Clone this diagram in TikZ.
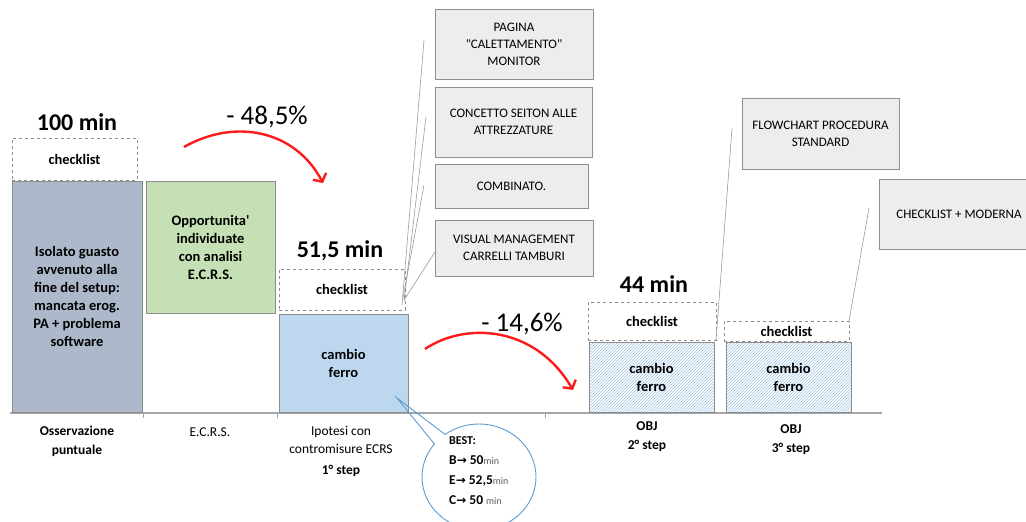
\documentclass[tikz,border=0pt]{standalone}
\usepackage{fontspec}
\setmainfont{Carlito}[Ligatures=TeXOff]
\newfontfamily\symfont{DejaVu Sans}
\usetikzlibrary{arrows.meta,positioning,patterns,shapes.callouts}
\definecolor{barslate}{HTML}{ADB9CA}
\definecolor{bargreen}{HTML}{C5E0B4}
\definecolor{barblue}{HTML}{BDD7EE}
\definecolor{hatchblue}{HTML}{9DC3E6}
\definecolor{notefill}{HTML}{EDEDED}
\definecolor{notedraw}{HTML}{8F8F8F}
\definecolor{bargray}{HTML}{8C8C8C}
\definecolor{axisgray}{HTML}{A6A6A6}
\definecolor{leadgray}{HTML}{9A9A9A}
\definecolor{calloutblue}{HTML}{5B9BD5}
\definecolor{arrowred}{HTML}{FF1A1A}
\definecolor{mingray}{HTML}{595959}
\newcommand\smallmin{{\mdseries\fontsize{10}{10}\selectfont\color{mingray} min}}
\newcommand\bestarrow{{\symfont\bfseries\fontsize{12}{12}\selectfont →}}

\begin{document}
\begin{tikzpicture}[x=1pt,y=-1pt,
    bar/.style={draw=bargray,line width=0.9pt,anchor=north west,inner sep=0pt,outer sep=0pt,
      align=center,font=\bfseries\fontsize{14.5}{18}\selectfont},
    ckbox/.style={draw=bargray,dashed,line width=0.9pt,anchor=north west,inner sep=0pt,outer sep=0pt,
      font=\bfseries\fontsize{14.5}{14}\selectfont},
    hatched/.style={pattern=north east lines,pattern color=hatchblue},
    note/.style={draw=notedraw,fill=notefill,line width=0.8pt,anchor=north west,inner sep=0pt,outer sep=0pt,
      align=center,font=\fontsize{13}{17}\selectfont},
    minlbl/.style={font=\bfseries\fontsize{24}{26}\selectfont},
    pctlbl/.style={font=\fontsize{27}{29}\selectfont},
    axlbl/.style={align=center,font=\fontsize{13.5}{18}\selectfont},
    axbold/.style={align=center,font=\bfseries\fontsize{13.5}{19}\selectfont},
    drop/.style={->,draw=arrowred,line width=2.4pt,>={Straight Barb[length=6pt,width=15pt]}},
    lead/.style={draw=leadgray,line width=0.6pt}]
  \useasboundingbox (0,0) rectangle (1026,522);

  % axis
  \draw[axisgray,line width=1.2pt] (10,413) -- (882,413);
  \foreach \t in {143,277,545} \draw[axisgray,line width=1pt] (\t,413) -- (\t,418);

  % bars
  \node[bar,fill=barslate,minimum width=130pt,minimum height=231pt] (obs) at (12,181)
    {Isolato guasto\\avvenuto alla\\fine del setup:\\mancata erog.\\PA + problema\\software};
  \node[ckbox,minimum width=125pt,minimum height=42pt] (ck1) at (12,138) {checklist};
  \node[minlbl] (min1) at (77,122) {100 min};

  \node[bar,fill=bargreen,minimum width=129pt,minimum height=132pt] (ecrs) at (146,181)
    {Opportunita'\\individuate\\con analisi\\E.C.R.S.};

  \node[bar,fill=barblue,minimum width=129pt,minimum height=98pt] (fe1) at (279,314) {cambio\\ferro};
  \node[ckbox,minimum width=126pt,minimum height=41pt] (ck2) at (279,269) {checklist};
  \node[minlbl] (min2) at (340,251) {51,5 min};

  \node[bar,hatched,minimum width=125pt,minimum height=70pt] (fe2) at (589,342) {cambio\\ferro};
  \node[ckbox,minimum width=128pt,minimum height=38pt] (ck3) at (588,302) {checklist};
  \node[minlbl] (min3) at (654,284) {44 min};

  \node[bar,hatched,minimum width=125pt,minimum height=70pt] (fe3) at (726,342) {cambio\\ferro};
  \node[ckbox,minimum width=125pt,minimum height=20pt] (ck4) at (724,321) {checklist};

  % labels under the axis
  \node[axbold] (lObs) at (77,441) {Osservazione\\puntuale};
  \node[axlbl] (lEcrs) at (210,432) {E.C.R.S.};
  \node[axlbl] (lIpo) at (341,440) {Ipotesi con\\contromisure ECRS};
  \node[axbold] (lStep1) at (341,471) {1° step};
  \node[axbold] (lObj2) at (647,437) {OBJ\\2° step};
  \node[axbold] (lObj3) at (791,440) {OBJ\\3° step};

  % notes
  \node[note,minimum width=158pt,minimum height=70pt] (pA) at (435,9) {PAGINA\\"CALETTAMENTO"\\MONITOR};
  \node[note,minimum width=157pt,minimum height=70pt] (pB) at (435,87) {CONCETTO SEITON ALLE\\ATTREZZATURE};
  \node[note,minimum width=153pt,minimum height=44pt] (pC) at (435,164) {COMBINATO.};
  \node[note,minimum width=158pt,minimum height=56pt] (pD) at (435,220) {VISUAL MANAGEMENT\\CARRELLI TAMBURI};
  \node[note,minimum width=157pt,minimum height=71pt] (pE) at (742,98) {FLOWCHART PROCEDURA\\STANDARD};
  \node[note,minimum width=160pt,minimum height=70pt] (pF) at (879,179) {CHECKLIST + MODERNA};

  \draw[lead] ([xshift=-11pt,yshift=4pt]pA.west) -- ([xshift=-3pt,yshift=5pt]ck2.south east);
  \draw[lead] ([xshift=-9pt,yshift=5pt]pB.west) -- ([xshift=-1pt,yshift=9pt]ck2.south east);
  \draw[lead] ([xshift=-11pt,yshift=1pt]pC.west) -- ([xshift=-2pt,yshift=12pt]ck2.south east);
  \draw[lead] ([yshift=-4pt]pD.west) -- ([xshift=-1pt,yshift=10pt]ck2.south east);
  \draw[lead] ([xshift=-10pt,yshift=5pt]pE.west) -- (ck3.south east);
  \draw[lead] ([xshift=-10pt,yshift=6pt]pF.west) -- (ck4.north east);

  % reductions
  \coordinate (d1s) at (184,147);
  \coordinate (d1e) at (323,183);
  \draw[drop] (d1s) .. controls (235,118) and (295,130) .. (d1e);
  \node[pctlbl] (pct1) at (267,117) {- 48,5\%};
  \coordinate (d2s) at (425,349);
  \coordinate (d2e) at (573,390);
  \draw[drop] (d2s) .. controls (465,322) and (535,325) .. (d2e);
  \node[pctlbl] (pct2) at (522,324) {- 14,6\%};

  % best callout
  \coordinate (bestTip) at (397,398);
  \node[ellipse callout,draw=calloutblue,line width=0.9pt,minimum width=114pt,minimum height=106pt,
    callout absolute pointer={(bestTip)}] (best) at (479,477) {};
  \node[align=left,anchor=north west,inner sep=0pt,font=\bfseries\fontsize{13.5}{20}\selectfont] (bestTxt) at (449,436)
    {{\fontsize{12}{20}\selectfont BEST:}\\B\bestarrow\ 50\smallmin\\E\bestarrow\ 52,5\smallmin\\C\bestarrow\ 50 \smallmin};
\end{tikzpicture}
\end{document}
